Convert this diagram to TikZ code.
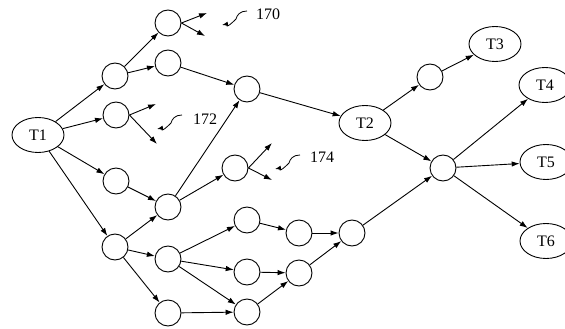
\documentclass[tikz,border=0pt]{standalone}
\usepackage{fontspec}
\setmainfont{Liberation Serif}
\usetikzlibrary{arrows.meta,shapes.geometric}
\begin{document}
\begin{tikzpicture}[x=1pt,y=-1pt,
  every node/.style={font=\fontsize{16}{18}\selectfont},
  tnode/.style={draw,ellipse,line width=0.9pt,minimum width=52pt,minimum height=35pt,inner sep=0pt},
  cnode/.style={draw,circle,line width=0.9pt,minimum size=26pt,inner sep=0pt},
  conn/.style={line width=0.9pt,-{Latex[length=8pt,width=5.5pt]}},
  lbl/.style={inner sep=0pt},
  squig/.style={line width=0.8pt,-{Latex[length=6pt,width=4.5pt]}}]
\useasboundingbox (0,0) rectangle (565,329);
% task nodes
\node[tnode] (T1) at (38,135) {T1};
\node[tnode] (T2) at (365,123) {T2};
\node[tnode] (T3) at (495,44) {T3};
\node[tnode] (T4) at (545,85) {T4};
\node[tnode] (T5) at (546,162) {T5};
\node[tnode] (T6) at (546,241) {T6};
% circles
\node[cnode] (a1) at (115,76) {};
\node[cnode] (a2) at (168,23) {};
\node[cnode] (a3) at (168,63) {};
\node[cnode] (a4) at (247,89) {};
\node[cnode] (b1) at (116,115) {};
\node[cnode] (c1) at (116,181) {};
\node[cnode] (c2) at (168,207) {};
\node[cnode] (c3) at (235,168) {};
\node[cnode] (d1) at (115,247) {};
\node[cnode] (d2) at (168,259) {};
\node[cnode] (d3) at (168,313) {};
\node[cnode] (e1) at (247,220) {};
\node[cnode] (e2) at (247,272) {};
\node[cnode] (e3) at (247,312) {};
\node[cnode] (f1) at (299,233) {};
\node[cnode] (f2) at (299,273) {};
\node[cnode] (g1) at (352,233) {};
\node[cnode] (h1) at (430,77) {};
\node[cnode] (m) at (443,168) {};
% free ends
\coordinate (a2u) at (207,13);
\coordinate (a2d) at (205,36);
\coordinate (b1u) at (156,104);
\coordinate (b1d) at (157,144);
\coordinate (c3u) at (272,143);
\coordinate (c3d) at (272,180);
% connectors
\draw[conn] (T1) -- (a1);
\draw[conn] (T1) -- (b1);
\draw[conn] (T1) -- (c1);
\draw[conn] (T1) -- (d1);
\draw[conn] (a1) -- (a2);
\draw[conn] (a1) -- (a3);
\draw[conn] (a2.east) -- (a2u);
\draw[conn] (a2.east) -- (a2d);
\draw[conn] (a3) -- (a4);
\draw[conn] (a4) -- (T2);
\draw[conn] (b1.east) -- (b1u);
\draw[conn] (b1.east) -- (b1d);
\draw[conn] (c1) -- (c2);
\draw[conn] (c2) -- (a4);
\draw[conn] (c2) -- (c3);
\draw[conn] (c3.east) -- (c3u);
\draw[conn] (c3.east) -- (c3d);
\draw[conn] (d1) -- (c2);
\draw[conn] (d1) -- (d2);
\draw[conn] (d1) -- (d3);
\draw[conn] (d2) -- (e1);
\draw[conn] (d2) -- (e2);
\draw[conn] (d2) -- (e3);
\draw[conn] (d3) -- (e3);
\draw[conn] (e1) -- (f1);
\draw[conn] (e2) -- (f2);
\draw[conn] (e3) -- (f2);
\draw[conn] (f1) -- (g1);
\draw[conn] (f2) -- (g1);
\draw[conn] (g1) -- (m);
\draw[conn] (T2) -- (h1);
\draw[conn] (T2) -- (m);
\draw[conn] (h1) -- (T3);
\draw[conn] (m) -- (T4);
\draw[conn] (m) -- (T5);
\draw[conn] (m) -- (T6);
% labels
\node[lbl] (l170) at (268,14) {170};
\node[lbl] (l172) at (205,119) {172};
\node[lbl] (l174) at (322,157) {174};
\coordinate (s170) at (247,11);
\coordinate (s172) at (182,115);
\coordinate (s174) at (300,155);
\draw[squig] (s170) .. controls +(-7,0) and +(1,-4) .. +(-11,8) .. controls +(-12,12) and +(5,-1) .. +(-25,14);
\draw[squig] (s172) .. controls +(-7,0) and +(1,-4) .. +(-11,8) .. controls +(-12,12) and +(5,-1) .. +(-25,14);
\draw[squig] (s174) .. controls +(-7,0) and +(1,-4) .. +(-11,8) .. controls +(-12,12) and +(5,-1) .. +(-25,14);
\end{tikzpicture}
\end{document}
